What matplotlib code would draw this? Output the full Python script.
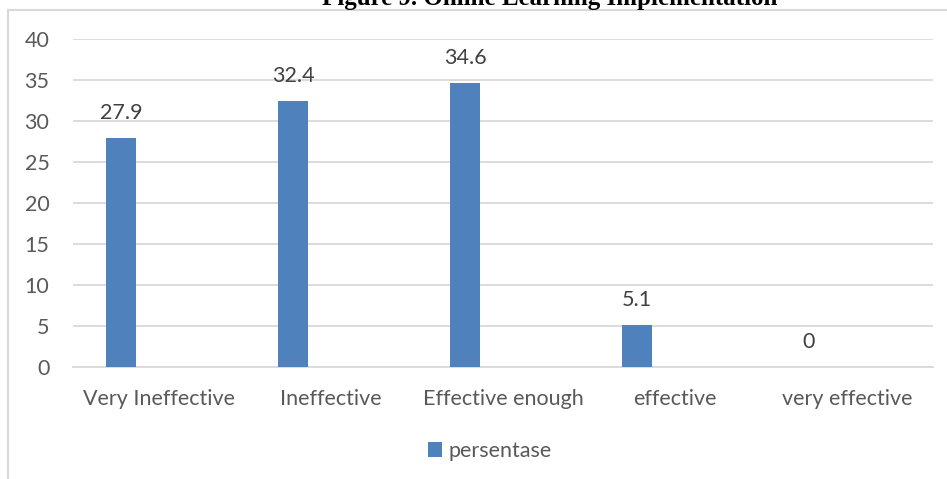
import matplotlib.pyplot as plt
from matplotlib.lines import Line2D

categories = ["Very Ineffective", "Ineffective", "Effective enough", "effective", "very effective"]
persentase = [27.9, 32.4, 34.6, 5.1, 0]
y_ticks = [0, 5, 10, 15, 20, 25, 30, 35, 40]

W, H = 947, 479
BAR_COLOR = "#4f81bd"
GRID_COLOR = "#d9d9d9"
TEXT_COLOR = "#595959"
FS = 15.5

plt.rcParams["font.family"] = ["Lato", "DejaVu Sans"]

fig = plt.figure(figsize=(W / 100, H / 100), dpi=100)
ax = fig.add_axes([73 / W, 1 - 367 / H, (933 - 73) / W, (367 - 39) / H])

# bars sit left of the category centre (first slot of a two-series layout)
x = list(range(len(categories)))
bar_x = [i - 0.221 for i in x]
bars = ax.bar(bar_x, persentase, width=0.174, color=BAR_COLOR, label="persentase", zorder=3)

for rect, val in zip(bars, persentase):
    ax.annotate(
        f"{val:g}",
        (rect.get_x() + rect.get_width() / 2, rect.get_height()),
        xytext=(0, 18),
        textcoords="offset points",
        ha="center",
        va="center",
        fontsize=FS,
        color="#404040",
    )

ax.set_xlim(-0.5, len(categories) - 0.5)
ax.set_ylim(0, 40)
ax.set_yticks(y_ticks)
ax.set_xticks(x)
ax.set_xticklabels(categories)
ax.tick_params(axis="both", length=0, labelsize=FS, colors=TEXT_COLOR)
ax.tick_params(axis="y", pad=17)
ax.tick_params(axis="x", pad=16)

ax.yaxis.grid(True, color=GRID_COLOR, linewidth=1.3, zorder=0)
ax.set_axisbelow(True)
for side in ["top", "right", "left"]:
    ax.spines[side].set_visible(False)
ax.spines["bottom"].set_color(GRID_COLOR)
ax.spines["bottom"].set_linewidth(1.3)

ax.legend(
    loc="center",
    bbox_to_anchor=(490 / W, 1 - 451 / H),
    bbox_transform=fig.transFigure,
    frameon=False,
    fontsize=FS,
    labelcolor=TEXT_COLOR,
    handlelength=0.65,
    handleheight=0.65,
    handletextpad=0.3,
)

# chart area border (only left and top are inside the picture)
fig.add_artist(Line2D([8 / W, 8 / W], [0, 1 - 10 / H], transform=fig.transFigure,
                      color=GRID_COLOR, linewidth=1.5))
fig.add_artist(Line2D([8 / W, 1], [1 - 10 / H, 1 - 10 / H], transform=fig.transFigure,
                      color=GRID_COLOR, linewidth=1.5))

# title is clipped by the top edge, as in the source figure
fig.text(550 / W, 1 - 5 / H, "Figure 9. Online Learning Implementation",
         ha="center", va="baseline", fontsize=18, fontweight="bold",
         family="Liberation Serif", color="black")

fig.savefig("out.png", dpi=100)
